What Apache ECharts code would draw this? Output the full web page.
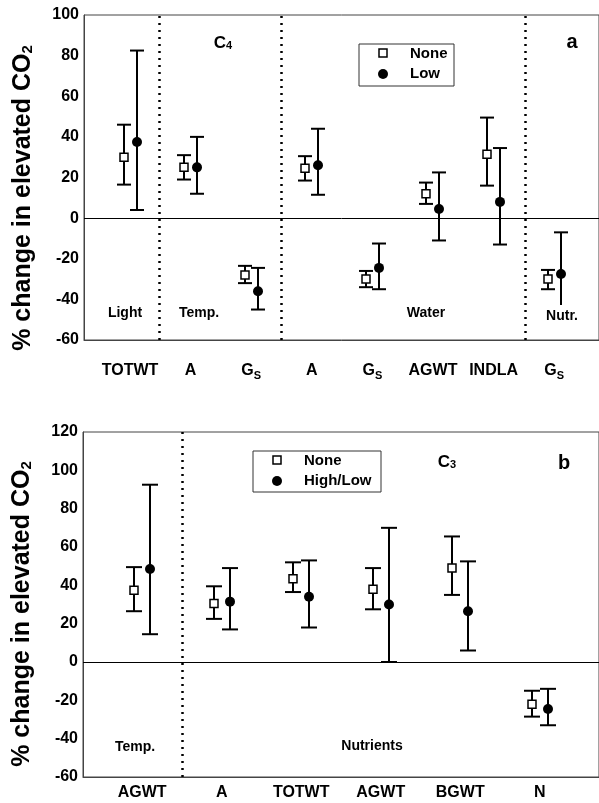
<!DOCTYPE html>
<html>
<head>
<meta charset="utf-8">
<script src="https://cdn.jsdelivr.net/npm/echarts@6/dist/echarts.min.js"></script>
<style>html,body{margin:0;padding:0;background:#fff}#viz{width:599px;height:803px}</style>
</head>
<body>
<div id="viz"></div>
<script>
// panel a : C4, treatment None vs Low
var topCats   = ['TOTWT', 'A', 'Gs', 'A', 'Gs', 'AGWT', 'INDLA', 'Gs'];
var topNone   = [30, 25, -28, 24.5, -30, 12, 31.5, -30];
var topNoneLo = [16.5, 19, -32, 18.5, -34, 7, 16, -35];
var topNoneHi = [46, 31, -23.5, 30.5, -26, 17.5, 49.5, -25.5];
var topLow    = [37.5, 25, -36, 26, -24.5, 4.5, 8, -27.5];
var topLowLo  = [4, 12, -45, 11.5, -35, -11, -13, -44];
var topLowHi  = [82.5, 40, -24.5, 44, -12.5, 22.5, 34.5, -7];
var topDividers = [0.48, 2.5, 6.52];

// panel b : C3, treatment None vs High/Low
var botCats   = ['AGWT', 'A', 'TOTWT', 'AGWT', 'BGWT', 'N'];
var botNone   = [37.5, 30.5, 43.5, 38, 49, -22];
var botNoneLo = [26.5, 22.5, 36.5, 27.5, 35, -28.5];
var botNoneHi = [49.5, 39.5, 52, 49, 65.5, -15];
var botHigh   = [48.5, 31.5, 34, 30, 26.5, -24.5];
var botHighLo = [14.5, 17, 18, 0, 6, -33];
var botHighHi = [92.5, 49, 53, 70, 52.5, -14];
var botDividers = [0.5];

var FONT = '"Liberation Sans", Arial, sans-serif';

function catLabel(name){
  if (name == 'Gs') return '{c|G}{s|S}';
  return '{c|' + name + '}';
}

function errorSeries(name, idx, vals, lo, hi, off, cap, marker){
  var data = [];
  for (var i = 0; i < vals.length; i++){
    data.push([i, vals[i], lo[i], hi[i]]);
  }
  return {
    type: 'custom', name: name, xAxisIndex: idx, yAxisIndex: idx,
    data: data, clip: false, z: 5,
    renderItem: function(params, api){
      var i = api.value(0);
      var pm = api.coord([i, api.value(1)]);
      var pl = api.coord([i, api.value(2)]);
      var ph = api.coord([i, api.value(3)]);
      var x = Math.round(pm[0] + off);
      var ls = {stroke: '#000', lineWidth: 2};
      var kids = [
        {type: 'line', shape: {x1: x, y1: pl[1], x2: x, y2: ph[1]}, style: ls},
        {type: 'line', shape: {x1: x - cap, y1: ph[1], x2: x + cap, y2: ph[1]}, style: ls},
        {type: 'line', shape: {x1: x - cap, y1: pl[1], x2: x + cap, y2: pl[1]}, style: ls}
      ];
      if (marker == 'square'){
        kids.push({type: 'rect', shape: {x: x - 4, y: pm[1] - 4, width: 8, height: 8},
                   style: {fill: '#fff', stroke: '#000', lineWidth: 1.5}});
      } else {
        kids.push({type: 'circle', shape: {cx: x, cy: pm[1], r: 5}, style: {fill: '#000'}});
      }
      return {type: 'group', children: kids};
    }
  };
}

function refLines(dividers){
  var d = [{yAxis: 0, lineStyle: {color: '#000', width: 1, type: 'solid'}}];
  for (var i in dividers){
    d.push({xAxis: dividers[i], lineStyle: {color: '#000', width: 2.5, type: [2, 5]}});
  }
  return {silent: true, symbol: 'none', label: {show: false}, animation: false, data: d};
}

function xAxisFor(idx, cats, min, max, margin){
  var vals = [];
  for (var i = 0; i < cats.length; i++) vals.push(i);
  return {
    gridIndex: idx, type: 'value', min: min, max: max,
    splitLine: {show: false}, axisTick: {show: false},
    axisLine: {onZero: false, lineStyle: {color: '#444', width: 1}},
    axisLabel: {
      customValues: vals, margin: margin,
      formatter: function(v){ return catLabel(cats[Math.round(v)]); },
      rich: {
        c: {fontFamily: FONT, fontWeight: 'bold', fontSize: 16, color: '#000', lineHeight: 20},
        s: {fontFamily: FONT, fontWeight: 'bold', fontSize: 11, color: '#000', lineHeight: 14, verticalAlign: 'bottom'}
      }
    }
  };
}

function yAxisFor(idx, min, max){
  return {
    gridIndex: idx, type: 'value', min: min, max: max, interval: 20,
    splitLine: {show: false}, axisTick: {show: false},
    axisLine: {show: true, onZero: false, lineStyle: {color: '#444', width: 1}},
    axisLabel: {fontFamily: FONT, fontWeight: 'bold', fontSize: 16, color: '#000', margin: 5}
  };
}

function txt(x, y, text, size, extra){
  var st = {text: text, x: x, y: y, fill: '#000', font: 'bold ' + size + 'px ' + FONT,
            align: 'center', verticalAlign: 'middle'};
  for (var k in extra) st[k] = extra[k];
  return {type: 'text', z: 100, style: st};
}

function legendBox(x, y, w, h, labels, textX){
  var cx = x + 24;
  return {type: 'group', z: 100, children: [
    {type: 'rect', shape: {x: x, y: y, width: w, height: h}, style: {fill: '#fff', stroke: '#333', lineWidth: 1}},
    {type: 'rect', shape: {x: cx - 4, y: y + 5, width: 8, height: 8}, style: {fill: '#fff', stroke: '#000', lineWidth: 1.5}},
    {type: 'circle', shape: {cx: cx, cy: y + 30, r: 5}, style: {fill: '#000'}},
    {type: 'text', style: {text: labels[0], x: textX, y: y + 10, fill: '#000', font: 'bold 15px ' + FONT, verticalAlign: 'middle'}},
    {type: 'text', style: {text: labels[1], x: textX, y: y + 30, fill: '#000', font: 'bold 15px ' + FONT, verticalAlign: 'middle'}}
  ]};
}

var yTitleRich = {
  m: {fontFamily: FONT, fontWeight: 'bold', fontSize: 25, fill: '#000'},
  sub: {fontFamily: FONT, fontWeight: 'bold', fontSize: 15, fill: '#000', verticalAlign: 'bottom'}
};

var topA = errorSeries('None', 0, topNone, topNoneLo, topNoneHi, -6.5, 7, 'square');
topA.markLine = refLines(topDividers);
var botA = errorSeries('None', 1, botNone, botNoneLo, botNoneHi, -8, 8, 'square');
botA.markLine = refLines(botDividers);

var option = {
  animation: false,
  backgroundColor: '#fff',
  grid: [
    {left: 84, top: 15, right: -1, height: 325, show: true, borderColor: '#444', borderWidth: 1},
    {left: 83, top: 432, right: -1, height: 345, show: true, borderColor: '#444', borderWidth: 1}
  ],
  xAxis: [
    xAxisFor(0, topCats, -0.76, 7.74, 21),
    xAxisFor(1, botCats, -0.744, 5.745, 6)
  ],
  yAxis: [yAxisFor(0, -60, 100), yAxisFor(1, -60, 120)],
  series: [
    topA,
    errorSeries('Low', 0, topLow, topLowLo, topLowHi, 6.5, 7, 'circle'),
    botA,
    errorSeries('High/Low', 1, botHigh, botHighLo, botHighHi, 8, 8, 'circle')
  ],
  graphic: [
    {type: 'text', z: 100, x: 23, y: 198, rotation: Math.PI / 2,
     style: {text: '{m|% change in elevated CO}{sub|2}', rich: yTitleRich, align: 'center', verticalAlign: 'middle'}},
    {type: 'text', z: 100, x: 22, y: 614, rotation: Math.PI / 2,
     style: {text: '{m|% change in elevated CO}{sub|2}', rich: yTitleRich, align: 'center', verticalAlign: 'middle'}},
    {type: 'text', z: 100, x: 223, y: 43,
     style: {text: '{m|C}{sub|4}', align: 'center', verticalAlign: 'middle',
             rich: {m: {fontFamily: FONT, fontWeight: 'bold', fontSize: 17, fill: '#000'},
                    sub: {fontFamily: FONT, fontWeight: 'bold', fontSize: 11, fill: '#000', verticalAlign: 'bottom'}}}},
    {type: 'text', z: 100, x: 447, y: 462,
     style: {text: '{m|C}{sub|3}', align: 'center', verticalAlign: 'middle',
             rich: {m: {fontFamily: FONT, fontWeight: 'bold', fontSize: 17, fill: '#000'},
                    sub: {fontFamily: FONT, fontWeight: 'bold', fontSize: 11, fill: '#000', verticalAlign: 'bottom'}}}},
    txt(572, 42, 'a', 20),
    txt(564, 463, 'b', 20),
    txt(125, 313, 'Light', 14),
    txt(199, 313, 'Temp.', 14),
    txt(426, 313, 'Water', 14),
    txt(562, 316, 'Nutr.', 14, {backgroundColor: '#fff', padding: [7, 2, 1, 2]}),
    txt(135, 747, 'Temp.', 14),
    txt(372, 746, 'Nutrients', 14),
    legendBox(359, 44, 95, 42, ['None', 'Low'], 410),
    legendBox(253, 451, 128, 41, ['None', 'High/Low'], 304)
  ]
};

var chart = echarts.init(document.getElementById('viz'));
chart.setOption(option);
</script>
</body>
</html>
